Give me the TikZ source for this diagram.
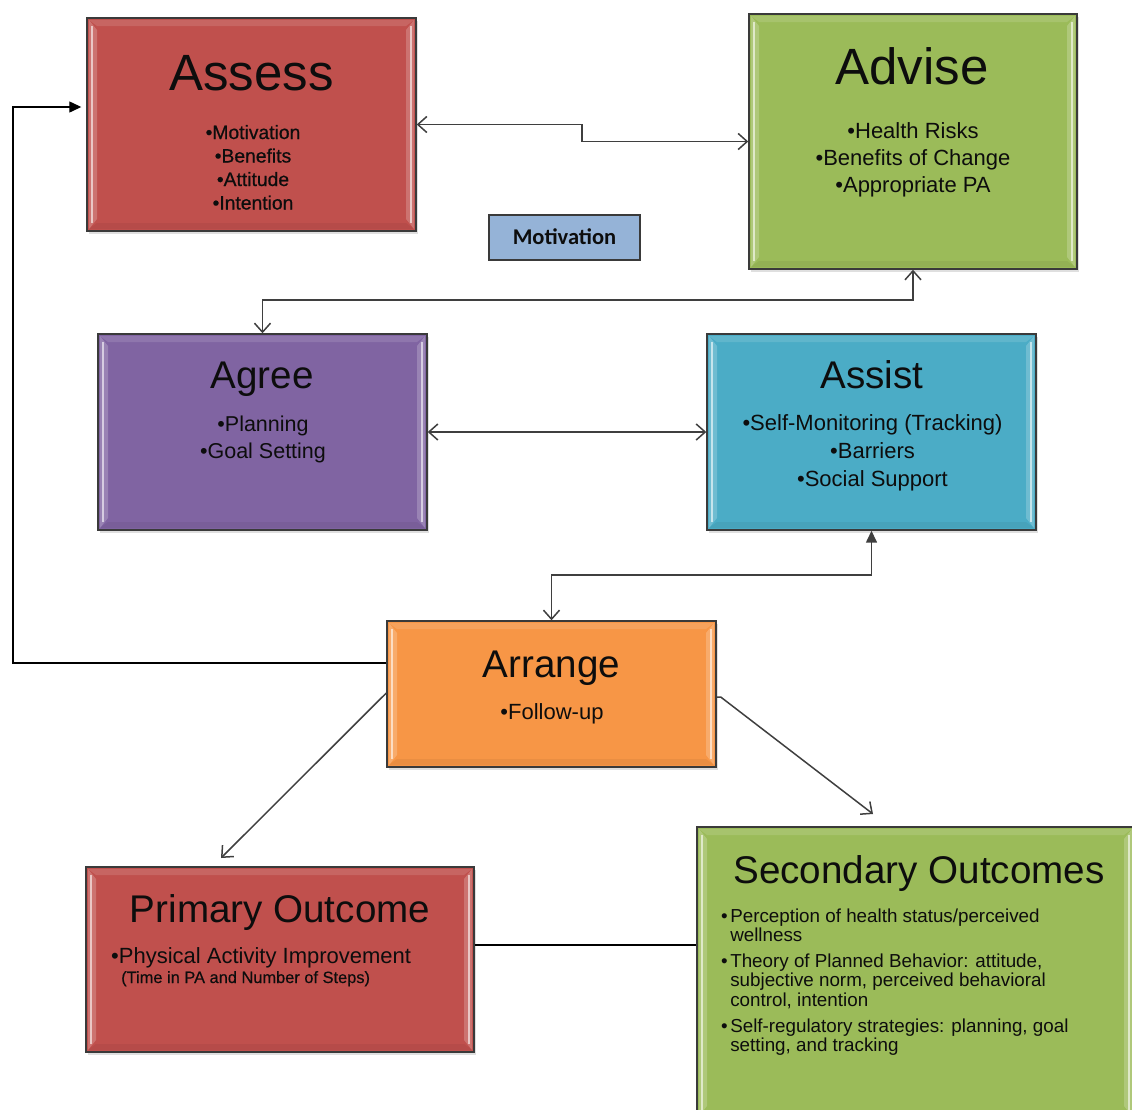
\documentclass[tikz,border=0pt]{standalone}
\usepackage{fontspec}
\setmainfont{Liberation Sans}
\newfontfamily\labelfont{Carlito}
\usetikzlibrary{arrows.meta,shadows}

\definecolor{ink}{HTML}{0D0D0D}
\definecolor{linegray}{HTML}{3F3F3F}
\definecolor{edgegray}{HTML}{3A3A3A}
\definecolor{brick}{HTML}{C0504D}
\definecolor{leafgreen}{HTML}{9BBB59}
\definecolor{plum}{HTML}{8064A2}
\definecolor{seablue}{HTML}{4BACC6}
\definecolor{amber}{HTML}{F79646}
\definecolor{skyblue}{HTML}{95B3D7}

\tikzset{
  openhead/.tip={Straight Barb[length=9pt,width=16pt]},
  solidhead/.tip={Triangle[length=12pt,width=11pt]},
  bevel/.style={path picture={
    \path (path picture bounding box.north west) coordinate (pnw)
          (path picture bounding box.south east) coordinate (pse);
    % left and right raised rims
    \fill[white,opacity=.2] ([shift={(2pt,-2pt)}]pnw) -- ([shift={(10pt,-12pt)}]pnw)
        -- ([shift={(10pt,12pt)}]pnw |- pse) -- ([shift={(2pt,2pt)}]pnw |- pse) -- cycle;
    \fill[white,opacity=.2] ([shift={(-2pt,-2pt)}]pse |- pnw) -- ([shift={(-10pt,-12pt)}]pse |- pnw)
        -- ([shift={(-10pt,12pt)}]pse) -- ([shift={(-2pt,2pt)}]pse) -- cycle;
    \draw[white,opacity=.6,line width=2.4pt] ([shift={(5pt,-8pt)}]pnw) -- ([shift={(5pt,8pt)}]pnw |- pse);
    \draw[white,opacity=.6,line width=2.4pt] ([shift={(-5pt,-8pt)}]pse |- pnw) -- ([shift={(-5pt,8pt)}]pse);
    % top light band, bottom shade
    \fill[white,opacity=.12] ([shift={(2pt,-2pt)}]pnw) -- ([shift={(-2pt,-2pt)}]pse |- pnw)
        -- ([shift={(-10pt,-8pt)}]pse |- pnw) -- ([shift={(10pt,-8pt)}]pnw) -- cycle;
    \fill[black,opacity=.05] ([shift={(2pt,2pt)}]pnw |- pse) -- ([shift={(-2pt,2pt)}]pse)
        -- ([shift={(-10pt,8pt)}]pse) -- ([shift={(10pt,8pt)}]pnw |- pse) -- cycle;
  }},
  stage/.style={draw=edgegray, line width=1.4pt, rectangle, inner sep=0pt,
    drop shadow={shadow xshift=1.5pt, shadow yshift=-2.5pt, opacity=.25}, bevel},
  heading/.style={anchor=base, inner sep=0pt, text=ink, font=\fontsize{#1}{#1}\selectfont},
  points/.style 2 args={anchor=base, inner sep=0pt, text=ink, font=\fontsize{#1}{#2}\selectfont},
  link/.style={draw=linegray, line width=1.5pt},
}

\begin{document}
\begin{tikzpicture}[x=1pt,y=-1pt]
\useasboundingbox (0,0) rectangle (1132,1109);

% ---- stage boxes ----
\node[stage, fill=brick, minimum width=329pt, minimum height=213pt] (assess) at (251.5,124.5) {};
\node[stage, fill=leafgreen, minimum width=328pt, minimum height=255pt] (advise) at (913,141.5) {};
\node[draw=edgegray, line width=1.2pt, fill=skyblue, minimum width=151pt, minimum height=45pt, inner sep=0pt] (motiv) at (564.5,237.5) {};
\node[stage, fill=plum, minimum width=329pt, minimum height=196pt] (agree) at (262.5,432) {};
\node[stage, fill=seablue, minimum width=329pt, minimum height=196pt] (assist) at (871.5,432) {};
\node[stage, fill=amber, minimum width=329pt, minimum height=146pt] (arrange) at (551.5,694) {};
\node[stage, fill=brick, minimum width=388pt, minimum height=185pt] (primary) at (280,959.5) {};
\node[stage, fill=leafgreen, minimum width=437pt, minimum height=291pt] (secondary) at (915.5,972.5) {};

% ---- texts ----
\node[heading=51] (assessT) at (251.5,90) {Assess};
\node[points={19.3}{23.5}] (assessL) at (253,139)
  {\addfontfeature{FakeBold=0.6}\begin{tabular}[t]{@{}c@{}}•Motivation\\•Benefits\\•Attitude\\•Intention\end{tabular}};

\node[heading=51] (adviseT) at (912,84) {Advise};
\node[points={22}{27}] (adviseL) at (913,138)
  {\begin{tabular}[t]{@{}c@{}}•Health Risks\\•Benefits of Change\\•Appropriate PA\end{tabular}};

\node[anchor=base, inner sep=0pt, text=ink, font=\labelfont\bfseries\fontsize{22.5}{22.5}\selectfont] (motivT) at (564.5,244) {Motivation};

\node[heading=38.6] (agreeT) at (262,388) {Agree};
\node[points={21.5}{27}] (agreeL) at (263,431)
  {\begin{tabular}[t]{@{}c@{}}•Planning\\•Goal Setting\end{tabular}};

\node[heading=38.6] (assistT) at (872,388) {Assist};
\node[points={22}{28}] (assistL) at (872.5,430)
  {\begin{tabular}[t]{@{}c@{}}•Self-Monitoring (Tracking)\\•Barriers\\•Social Support\end{tabular}};

\node[heading=38.6] (arrangeT) at (551.5,677) {Arrange};
\node[points={22}{22}] (arrangeL) at (552,719) {•Follow-up};

\node[heading=38.6] (primaryT) at (280,922) {Primary Outcome};
\node[points={22}{22}, anchor=base west] (primaryL) at (111,963) {•Physical Activity Improvement};
\node[points={16.4}{16.4}, anchor=base west] (primaryS) at (121,983) {\addfontfeature{FakeBold=0.4}(Time in PA and Number of Steps)};

\node[heading=38.6] (secondaryT) at (919,883) {Secondary Outcomes};
\node[points={18.8}{19.8}, anchor=base west] (secondaryL) at (721,922)
  {\begin{tabular}[t]{@{}l@{\hspace{2.5pt}}l@{}}
   • & Perception of health status/perceived\\
     & wellness\\[5.5pt]
   • & Theory of Planned Behavior: attitude,\\
     & subjective norm, perceived behavioral\\
     & control, intention\\[5.5pt]
   • & Self-regulatory strategies: planning, goal\\
     & setting, and tracking
   \end{tabular}};

% ---- connectors ----
\coordinate (loopx) at (13,663);
\coordinate (ptip) at (221,858);
\coordinate (stip) at (873,814);

\draw[link, {openhead}-{openhead}] (assess.east) -- (582,124.5) |- (advise.west);
\draw[link, {openhead}-{openhead}] (advise.south) -- (913,300) -| (agree.north);
\draw[link, {openhead}-{openhead}] (agree.east) -- (assist.west);
\draw[link, {solidhead}-{openhead}] (assist.south) -- (871.5,575) -| (arrange.north);
\draw[link, draw=black, line width=1.3pt, -{solidhead}, shorten >=5pt]
  (arrange.west |- loopx) -- (loopx) -- (13,107) -- (assess.west |- 0,107);
\draw[link, -{openhead}] (arrange.west |- 0,693) -- (ptip);
\draw[link, -{openhead}] (arrange.east |- 0,697) -- ([xshift=4pt]arrange.east |- 0,697) -- (stip);
\draw[link, line width=1.3pt, draw=black] (primary.east |- 0,945) -- (secondary.west |- 0,945);

\end{tikzpicture}
\end{document}
